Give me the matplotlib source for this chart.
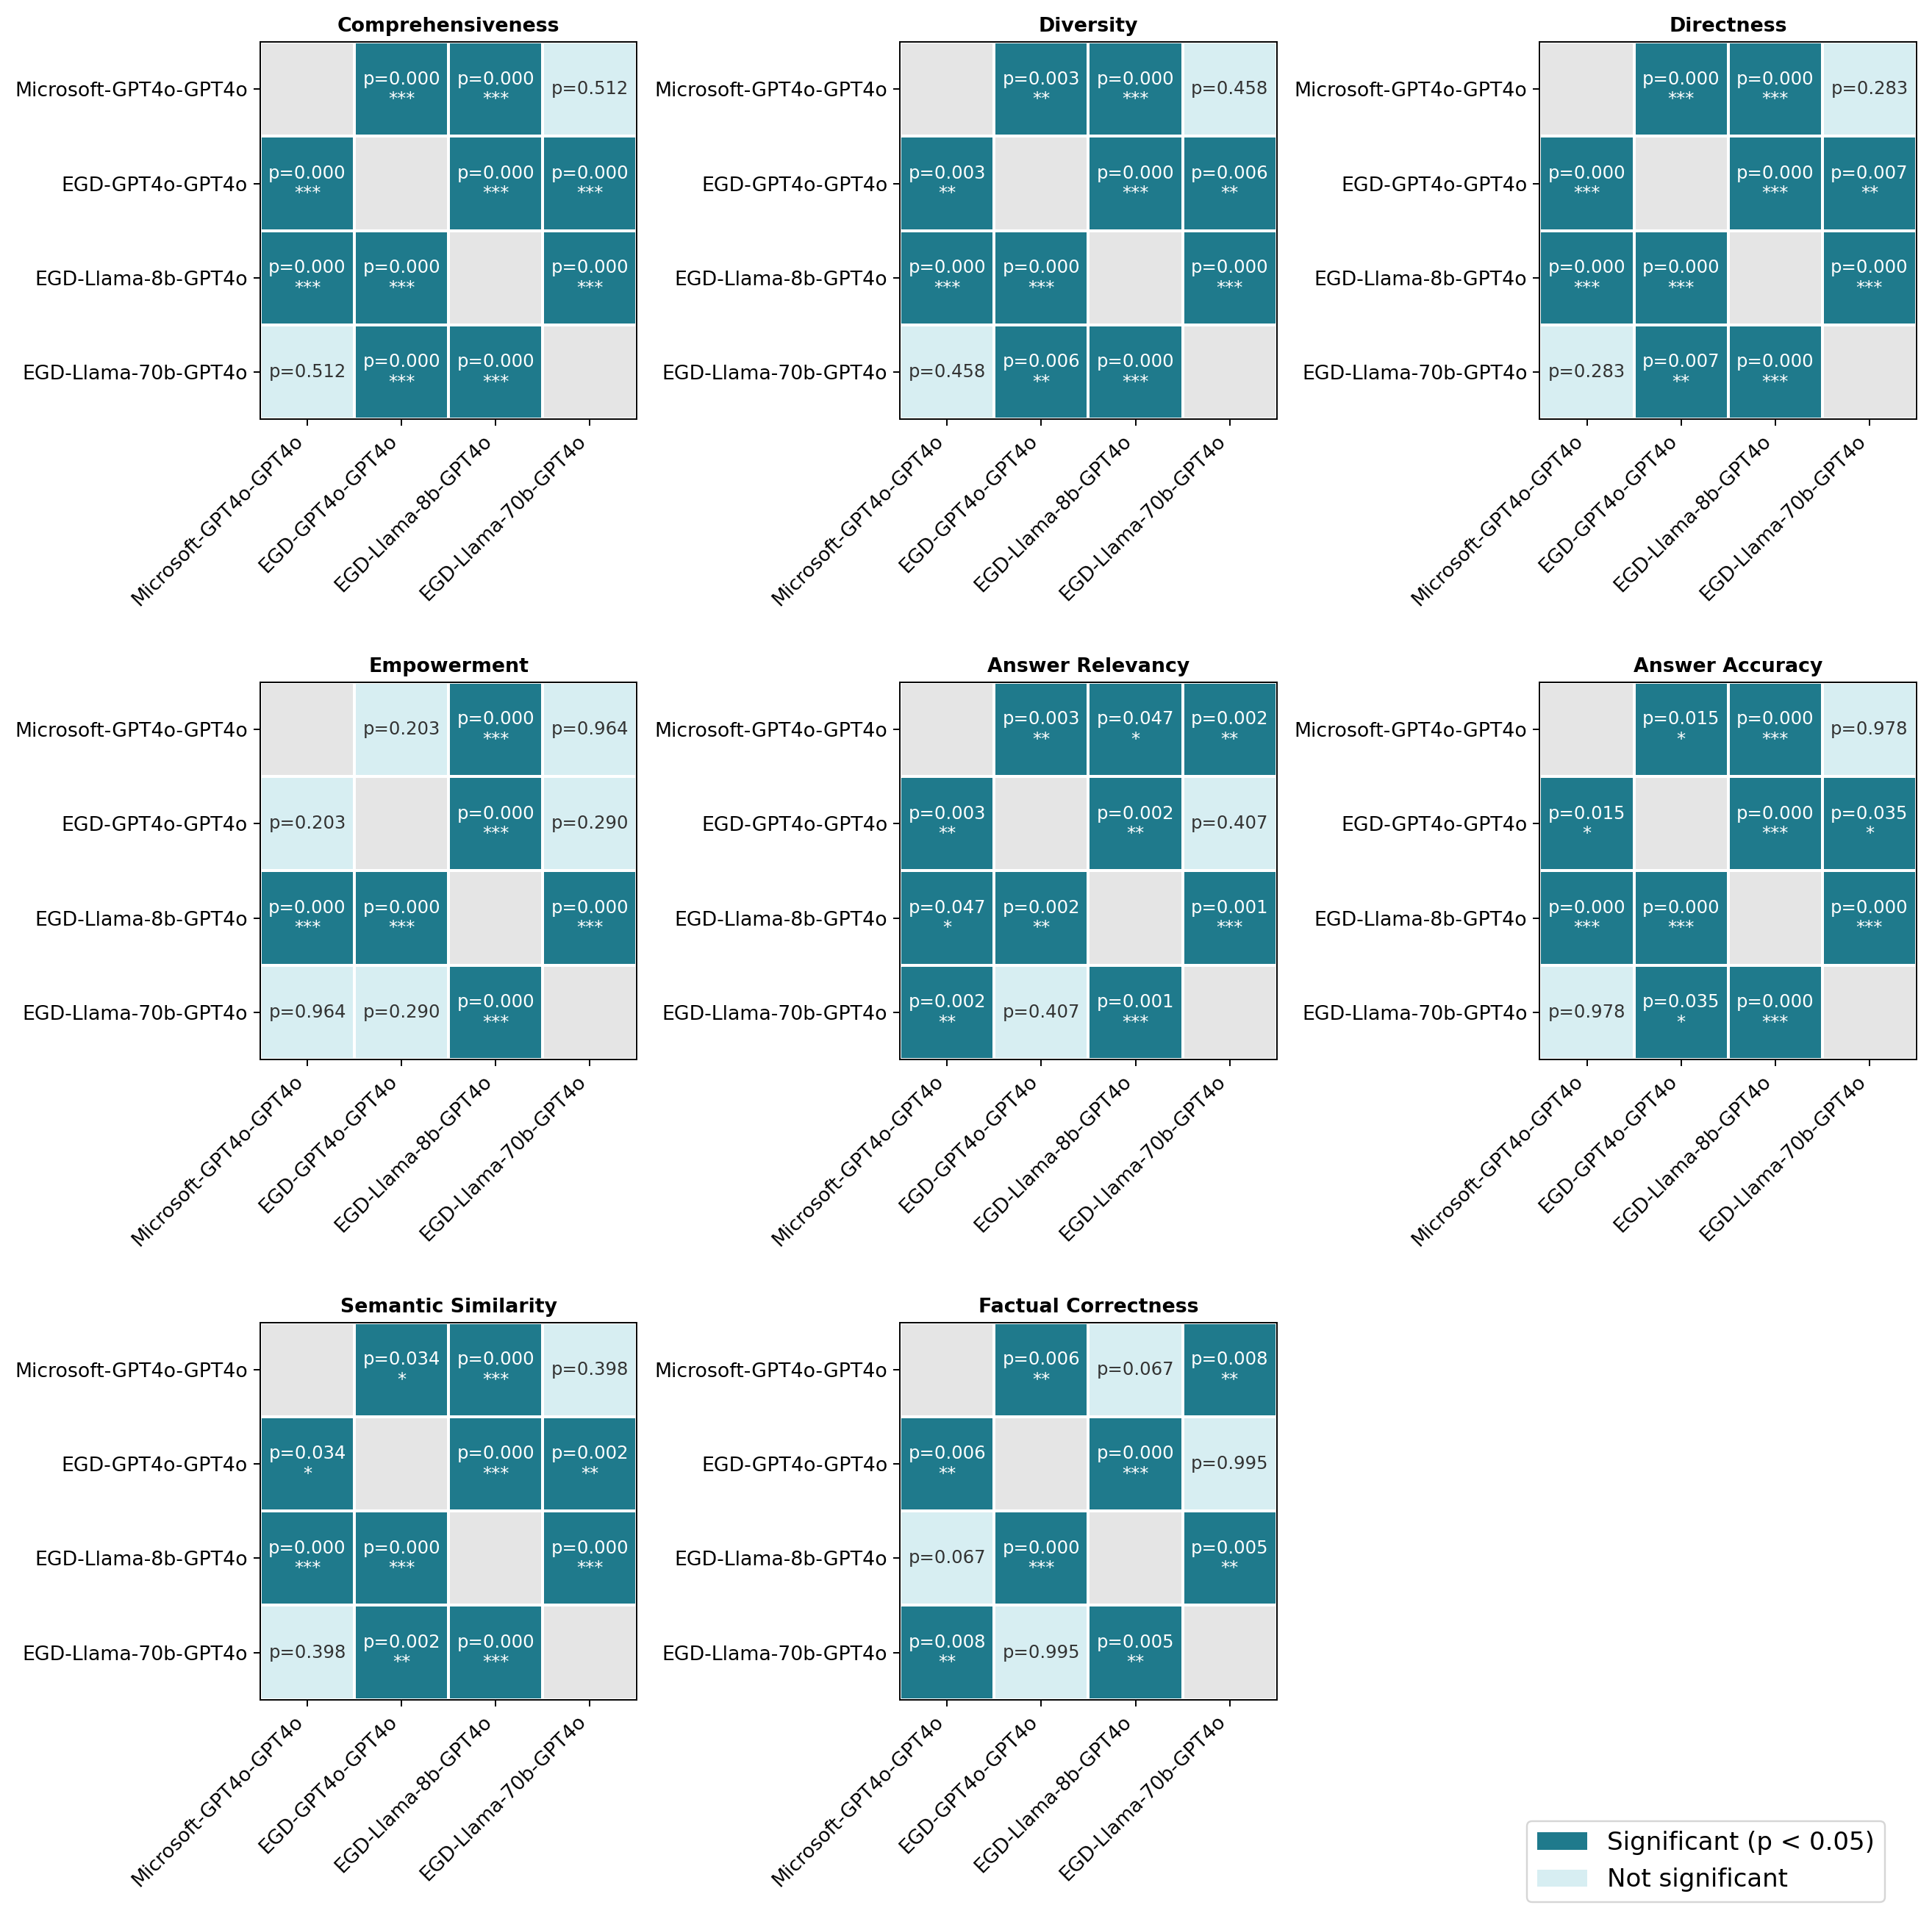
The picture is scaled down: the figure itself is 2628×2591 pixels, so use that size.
import matplotlib.pyplot as plt
import numpy as np
from matplotlib.colors import ListedColormap
from matplotlib.patches import Patch

models = ["Microsoft-GPT4o-GPT4o", "EGD-GPT4o-GPT4o",
          "EGD-Llama-8b-GPT4o", "EGD-Llama-70b-GPT4o"]

metrics = ["Comprehensiveness", "Diversity", "Directness", "Empowerment",
           "Answer Relevancy", "Answer Accuracy", "Semantic Similarity",
           "Factual Correctness"]

# p-values for the upper triangle, pair order:
# (0,1), (0,2), (0,3), (1,2), (1,3), (2,3)
pairs = [(0, 1), (0, 2), (0, 3), (1, 2), (1, 3), (2, 3)]
comprehensiveness = [0.000, 0.000, 0.512, 0.000, 0.000, 0.000]
diversity = [0.003, 0.000, 0.458, 0.000, 0.006, 0.000]
directness = [0.000, 0.000, 0.283, 0.000, 0.007, 0.000]
empowerment = [0.203, 0.000, 0.964, 0.000, 0.290, 0.000]
answer_relevancy = [0.003, 0.047, 0.002, 0.002, 0.407, 0.0009]  # shown as 0.001 ***
answer_accuracy = [0.015, 0.000, 0.978, 0.000, 0.035, 0.000]
semantic_similarity = [0.034, 0.000, 0.398, 0.000, 0.002, 0.000]
factual_correctness = [0.006, 0.067, 0.008, 0.000, 0.995, 0.005]

all_pvals = [comprehensiveness, diversity, directness, empowerment,
             answer_relevancy, answer_accuracy, semantic_similarity,
             factual_correctness]

SIG = "#1f7a8c"
NONSIG = "#d7eef2"
DIAG = "#e5e5e5"


def stars(p):
    if p < 0.001:
        return "***"
    if p < 0.01:
        return "**"
    if p < 0.05:
        return "*"
    return ""


cmap = ListedColormap([DIAG, NONSIG, SIG])

fig, axes = plt.subplots(3, 3, figsize=(2628 / 175, 2591 / 175), dpi=175)
fig.subplots_adjust(left=0.1347, right=0.992, top=0.978, bottom=0.1077,
                    wspace=0.698, hspace=0.697)

for ax, name, vals in zip(axes.flat, metrics, all_pvals):
    mat = np.full((4, 4), np.nan)
    for (i, j), p in zip(pairs, vals):
        mat[i, j] = p
        mat[j, i] = p
    cls = np.where(np.isnan(mat), 0, np.where(mat < 0.05, 2, 1))
    ax.pcolormesh(cls, cmap=cmap, vmin=0, vmax=2, edgecolors="white",
                  linewidth=1.5)
    ax.set_xlim(0, 4)
    ax.set_ylim(4, 0)
    ax.set_aspect("equal")
    ax.set_xticks(np.arange(4) + 0.5)
    ax.set_yticks(np.arange(4) + 0.5)
    ax.set_xticklabels(models, rotation=45, ha="right", fontsize=11)
    ax.set_yticklabels(models, fontsize=11)
    ax.set_title(name, fontsize=11, fontweight="bold")
    for i in range(4):
        for j in range(4):
            if i == j:
                continue
            p = mat[i, j]
            s = stars(p)
            if s:
                ax.text(j + 0.5, i + 0.5, "p=%.3f\n%s" % (p, s), ha="center",
                        va="center", color="white", fontsize=10)
            else:
                ax.text(j + 0.5, i + 0.5, "p=%.3f" % p, ha="center",
                        va="center", color="#333333", fontsize=10)

axes.flat[8].axis("off")

handles = [Patch(facecolor=SIG, label="Significant (p < 0.05)"),
           Patch(facecolor=NONSIG, label="Not significant")]
fig.legend(handles=handles, loc="lower right", bbox_to_anchor=(0.982, -0.005),
           fontsize=14)

plt.savefig("out.png", dpi=175)
